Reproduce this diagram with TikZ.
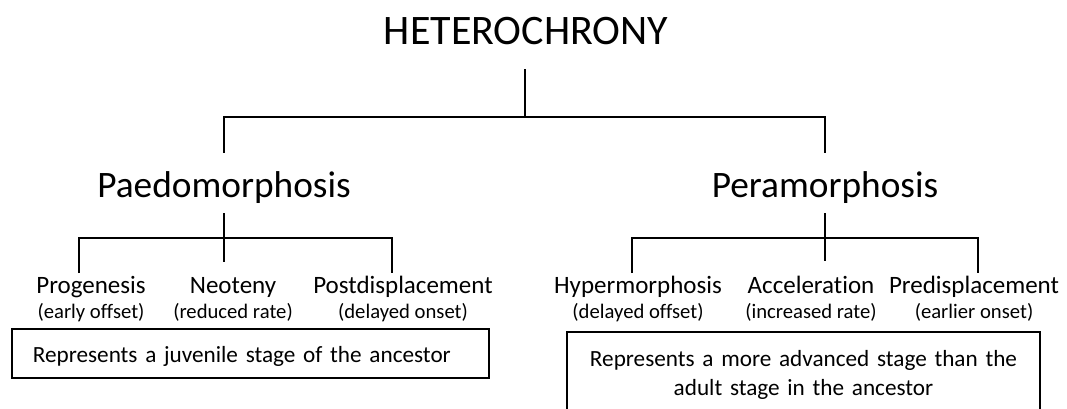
\documentclass[tikz,border=0pt]{standalone}
\usepackage{fontspec}
\setmainfont{Carlito}[Ligatures=NoCommon]
\usepackage{tikz}
\usetikzlibrary{positioning}

\begin{document}
\begin{tikzpicture}[x=0.75pt, y=-0.75pt]
    % Define styles
    \tikzstyle{heading} = [inner sep=0pt, anchor=base, font=\fontsize{31.5}{36}\selectfont, text height=22pt, text depth=18.75pt]
    \tikzstyle{group} = [inner sep=0pt, anchor=base, font=\fontsize{28}{33}\selectfont, text height=33pt, text depth=12pt]
    \tikzstyle{leaf} = [inner sep=0pt, anchor=base, font=\fontsize{18.75}{22}\selectfont]
    \tikzstyle{note} = [inner sep=0pt, anchor=base, yshift=-18.75pt, font=\fontsize{15.5}{18}\selectfont]
    \tikzstyle{summary} = [rectangle, draw, line width=1.3pt, font=\fontsize{17.4}{21.75}\selectfont]
    \tikzstyle{treeline} = [line width=1.5pt]

    \useasboundingbox (0,0) rectangle (1067,408);

    % Top level
    \node [heading] (hetero) at (526,44) {HETEROCHRONY};
    \node [group] (paedo) at (224,197) {Paedomorphosis};
    \node [group] (pera) at (825,197) {Peramorphosis};

    \coordinate (topbar) at (525,117);
    \draw [treeline] (hetero.south -| topbar) -- (topbar);
    \draw [treeline] (paedo) |- (topbar) -| (pera);

    % Paedomorphosis branch
    \node [leaf] (prog) at (91,293) {Progenesis};
    \node [note] (progsub) at (prog.base) {(early offset)};
    \node [leaf] (neo) at (233,293) {Neoteny};
    \node [note] (neosub) at (neo.base) {(reduced rate)};
    \node [leaf] (post) at (403,293) {Postdisplacement};
    \node [note] (postsub) at (post.base) {(delayed onset)};

    \coordinate (paedoEnd) at (224,262);
    \coordinate (paedoBar) at (224,238);
    \coordinate (progTop) at (79,273);
    \coordinate (postTop) at (392,273);
    \draw [treeline] (paedo) -- (paedoEnd);
    \draw [treeline] (progTop) |- (paedoBar) -| (postTop);

    % Peramorphosis branch
    \node [leaf] (hyper) at (638,293) {Hypermorphosis};
    \node [note] (hypersub) at (hyper.base) {(delayed offset)};
    \node [leaf] (acc) at (811,293) {Acceleration};
    \node [note] (accsub) at (acc.base) {(increased rate)};
    \node [leaf] (predi) at (974,293) {Predisplacement};
    \node [note] (predisub) at (predi.base) {(earlier onset)};

    \coordinate (peraEnd) at (825,261);
    \coordinate (peraBar) at (825,238);
    \coordinate (hyperTop) at (632,273);
    \coordinate (prediTop) at (978,273);
    \draw [treeline] (pera) -- (peraEnd);
    \draw [treeline] (hyperTop) |- (peraBar) -| (prediTop);

    % Summary boxes
    \node [summary, anchor=west, minimum height=36.75pt, text width=326.25pt, inner xsep=15.75pt, align=left, text height=15pt, text depth=1pt] (juvenile) at (11,353.5) {Represents a juvenile stage of the ancestor};
    \node [summary, anchor=north, text width=334.75pt, inner xsep=10pt, inner ysep=13.65pt, align=center] (advanced) at (803.5,331) {Represents a more advanced stage than the\\adult stage in the ancestor};
\end{tikzpicture}
\end{document}
